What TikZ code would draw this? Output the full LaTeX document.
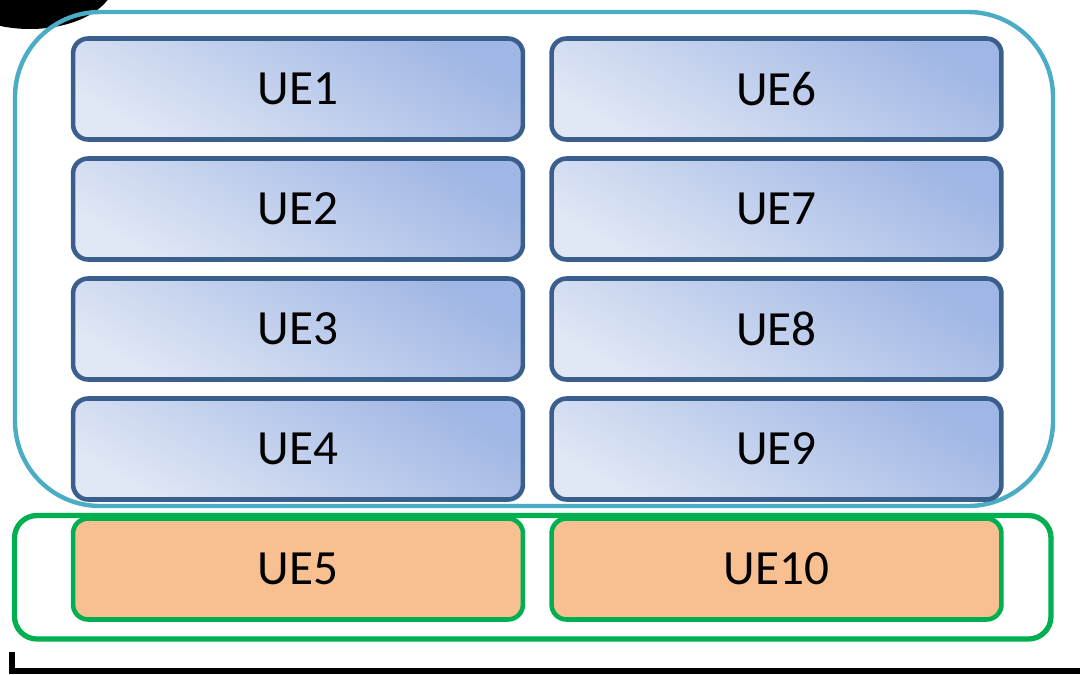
\documentclass[tikz,border=0pt]{standalone}
\usepackage{fontspec}
\setmainfont{Carlito}
\definecolor{uedraw}{RGB}{58,95,140}
\definecolor{uedark}{RGB}{160,182,228}
\definecolor{uelight}{RGB}{224,231,245}
\definecolor{ueorange}{RGB}{248,192,145}
\definecolor{grpteal}{RGB}{75,172,198}
\definecolor{grpgreen}{RGB}{0,176,80}
\begin{document}
\begin{tikzpicture}[x=0.02cm, y=-0.02cm, font=\fontsize{28}{32}\selectfont, line join=round, line cap=round,
uebox/.style={line width=2.6pt, rounded corners=0.3cm, minimum width=9.0cm, minimum height=2.02cm},
ue/.style={uebox, draw=uedraw, bottom color=uelight, top color=uedark, shading angle=-30},
uesel/.style={uebox, draw=grpgreen, fill=ueorange}]
\useasboundingbox (0,0) rectangle (1080,674);
\clip (0,0) rectangle (1080,674);
\def\xl{298} \def\xr{776.5}
% black marks at the edges
\fill (30,-20) ellipse [x radius=1.7cm, y radius=0.98cm];
\draw[line width=3pt, line cap=butt, line join=miter] (12,652) |- (1080,671);
% groups
\draw[grpteal, line width=2.5pt, rounded corners=1.7cm] (15,12) rectangle (1053,506);
\draw[grpgreen, line width=3pt, rounded corners=0.45cm] (14.5,515.5) rectangle (1051,639);
% UE boxes
\foreach \i/\j in {1/6,2/7,3/8,4/9}{
  \node[ue] (ue\i) at (\xl,{89+120*(\i-1)}) {UE\i};
  \node[ue] (ue\j) at (\xr,{89+120*(\i-1)}) {UE\j};
}
\node[uesel] (ue5) at (\xl,569) {UE5};
\node[uesel] (ue10) at (\xr,569) {UE10};
\end{tikzpicture}
\end{document}
